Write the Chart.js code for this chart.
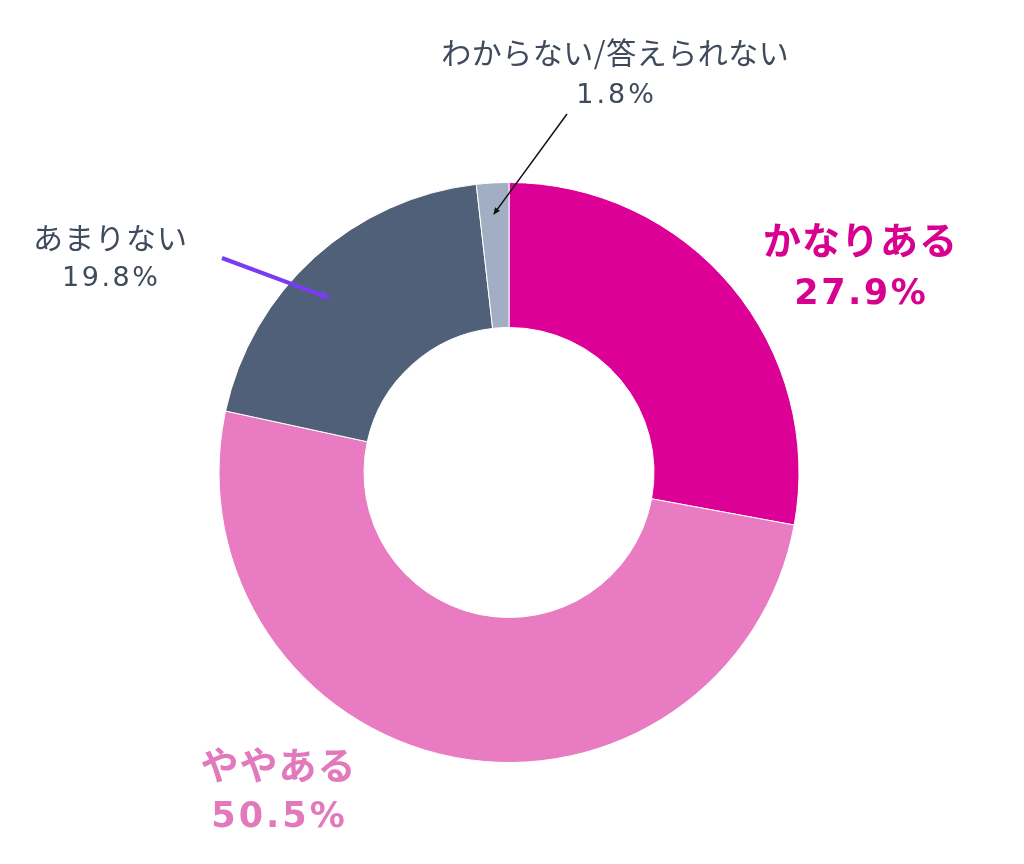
<!DOCTYPE html>
<html>
<head>
<meta charset="utf-8">
<script src="https://cdn.jsdelivr.net/npm/chart.js@4/dist/chart.umd.min.js"></script>
<style>
  html, body { margin: 0; padding: 0; background: #fff; }
  #wrap { width: 1024px; height: 864px; }
</style>
</head>
<body>
<div id="wrap"><canvas id="donutChart" width="1024" height="864"></canvas></div>
<script>
const categories = ['かなりある', 'ややある', 'あまりない', 'わからない/答えられない'];
const shares = [27.9, 50.5, 19.8, 1.8];
const colors = ['#DC0096', '#E87BC1', '#516079', '#A2AEC4'];

// label text placement, colour and arrow settings per slice
const labelStyles = [
    { x: 860, y: 240, dy: 55, jpSize: 38, numSize: 35, bold: true, color: '#D8008F', jp: 1, num: 2.5 },
    { x: 278, y: 765, dy: 53, jpSize: 38, numSize: 35, bold: true, color: '#E279BD', jp: 1, num: 3 },
    { x: 110, y: 238, dy: 41, jpSize: 30, numSize: 27, bold: false, color: '#3F4A5C', jp: 1, num: 2.5,
      arrow: { from: [222, 258], color: '#7A3CF2', width: 4, frac: 0.45, ratio: 0.86 } },
    { x: 615, y: 53, dy: 43, jpSize: 30, numSize: 27, bold: false, color: '#3F4A5C', jp: 0.5, num: 3,
      arrow: { from: [567, 114], color: '#111', width: 1.5, frac: 0.46, ratio: 0.89 } }
];

function drawSpaced(ctx, text, x, y, spacing) {
    ctx.letterSpacing = spacing + 'px';
    ctx.fillText(text, x + spacing / 2, y);
    ctx.letterSpacing = '0px';
}

const calloutPlugin = {
    id: 'callouts',
    afterDatasetsDraw(chart) {
        const ctx = chart.ctx;
        const meta = chart.getDatasetMeta(0);
        ctx.save();
        ctx.textAlign = 'center';
        ctx.textBaseline = 'middle';
        meta.data.forEach((arc, i) => {
            const s = labelStyles[i];
            const weight = s.bold ? 'bold ' : '';
            ctx.fillStyle = s.color;
            ctx.font = weight + s.jpSize + 'px "Noto Sans CJK JP", sans-serif';
            drawSpaced(ctx, categories[i], s.x, s.y, s.jp);
            ctx.font = weight + s.numSize + 'px "DejaVu Sans", sans-serif';
            drawSpaced(ctx, shares[i].toFixed(1) + '%', s.x, s.y + s.dy, s.num);
            if (s.arrow) {
                const p = arc.getProps(['x', 'y', 'startAngle', 'endAngle', 'outerRadius'], true);
                const a = p.startAngle + (p.endAngle - p.startAngle) * s.arrow.frac;
                const r = p.outerRadius * s.arrow.ratio;
                const tx = p.x + Math.cos(a) * r;
                const ty = p.y + Math.sin(a) * r;
                const [fx, fy] = s.arrow.from;
                const ang = Math.atan2(ty - fy, tx - fx);
                const head = 6 + s.arrow.width * 1.2;
                ctx.strokeStyle = s.arrow.color;
                ctx.fillStyle = s.arrow.color;
                ctx.lineWidth = s.arrow.width;
                ctx.beginPath();
                ctx.moveTo(fx, fy);
                ctx.lineTo(tx - Math.cos(ang) * head * 0.6, ty - Math.sin(ang) * head * 0.6);
                ctx.stroke();
                ctx.beginPath();
                ctx.moveTo(tx, ty);
                ctx.lineTo(tx - Math.cos(ang - 0.4) * head, ty - Math.sin(ang - 0.4) * head);
                ctx.lineTo(tx - Math.cos(ang + 0.4) * head, ty - Math.sin(ang + 0.4) * head);
                ctx.closePath();
                ctx.fill();
            }
        });
        ctx.restore();
    }
};

document.addEventListener('DOMContentLoaded', () => {
    const ctx = document.getElementById('donutChart').getContext('2d');
    new Chart(ctx, {
        type: 'doughnut',
        data: {
            labels: categories,
            datasets: [{
                data: shares,
                backgroundColor: colors,
                borderColor: '#ffffff',
                borderWidth: 1,
            }]
        },
        options: {
            responsive: false,
            animation: false,
            cutout: '50%',
            layout: {
                padding: { top: 182, bottom: 101, left: 218, right: 224 }
            },
            plugins: {
                legend: { display: false },
                tooltip: { enabled: false },
            },
        },
        plugins: [calloutPlugin]
    });
});
</script>
</body>
</html>
